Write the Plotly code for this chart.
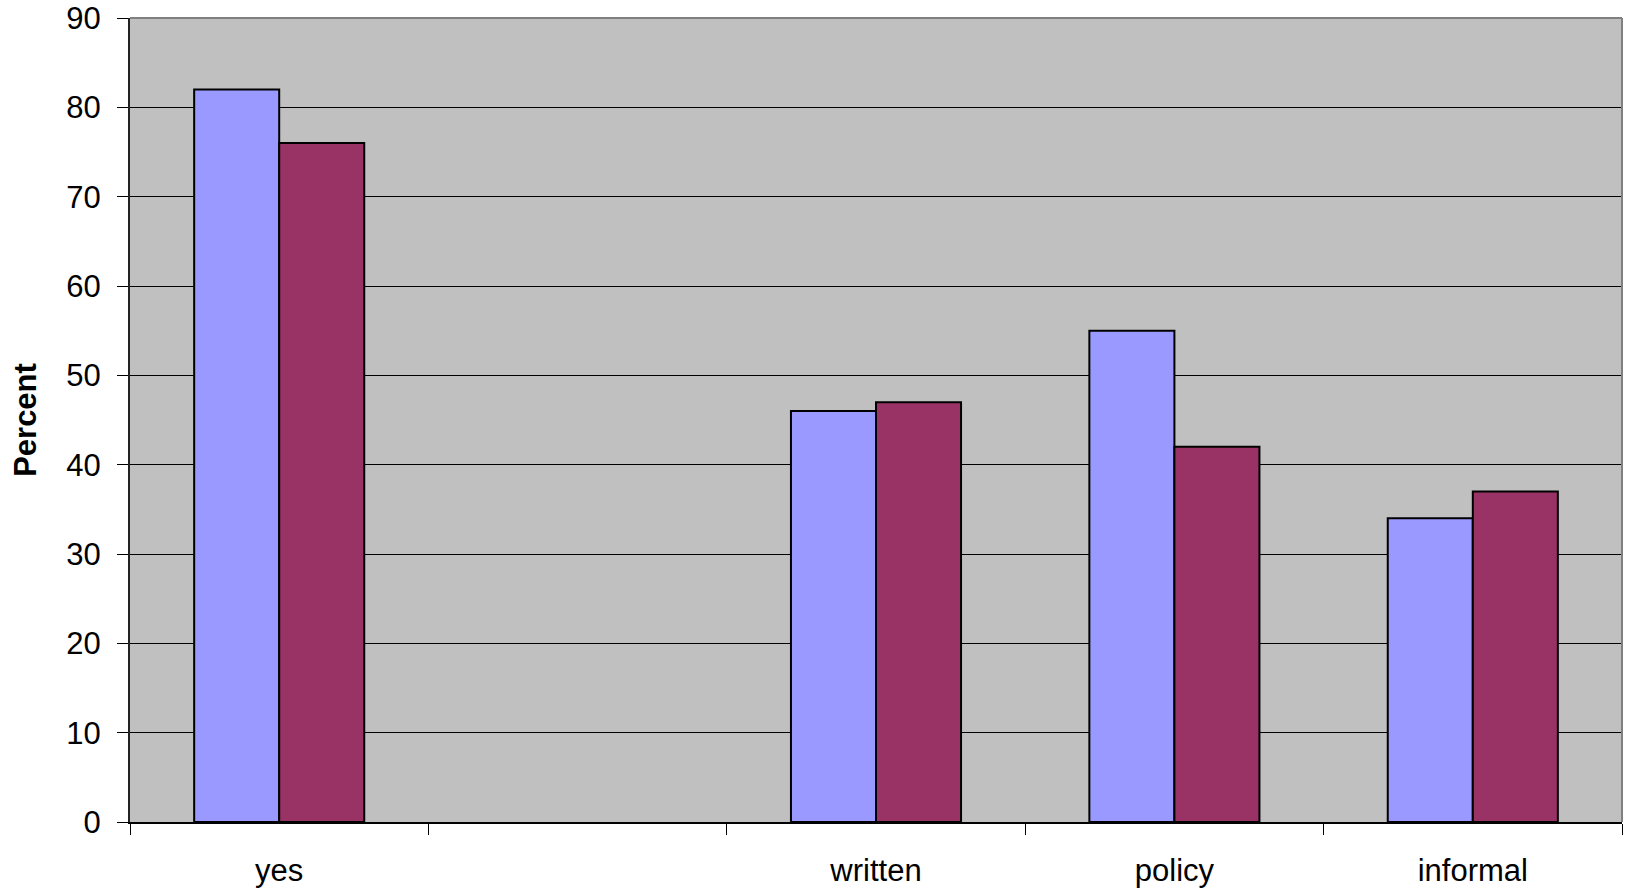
import plotly.graph_objects as go

categories = ["yes", " ", "written", "policy", "informal"]
series_a = [82, None, 46, 55, 34]
series_b = [76, None, 47, 42, 37]
y_ticks = [0, 10, 20, 30, 40, 50, 60, 70, 80, 90]

FONT = "Liberation Sans, Arial, sans-serif"

fig = go.Figure()
fig.add_trace(go.Bar(x=categories, y=series_a, marker=dict(color="#9999FF", line=dict(color="black", width=2)),
                     showlegend=False))
fig.add_trace(go.Bar(x=categories, y=series_b, marker=dict(color="#993366", line=dict(color="black", width=2)),
                     showlegend=False))

fig.update_layout(
    width=1626, height=890,
    margin=dict(l=130, r=4, t=18, b=68),
    paper_bgcolor="white",
    plot_bgcolor="#C0C0C0",
    barmode="group",
    bargap=0.43,
    bargroupgap=0,
    font=dict(family=FONT, size=31, color="black"),
    xaxis=dict(
        type="category",
        categoryorder="array", categoryarray=categories,
        tickson="boundaries",
        automargin=False,
        ticks="outside", ticklen=11, tickcolor="black", tickwidth=1,
        ticklabelstandoff=20,
        ticklabeloverflow="allow",
        showline=True, linecolor="black", linewidth=2,
        showgrid=False,
        tickfont=dict(family=FONT, size=31, color="black"),
    ),
    yaxis=dict(
        range=[0, 90],
        tickvals=y_ticks,
        automargin=False,
        ticks="outside", ticklen=11, tickcolor="black", tickwidth=1,
        ticklabelstandoff=10,
        ticklabeloverflow="allow",
        showline=True, linecolor="#222222", linewidth=2,
        showgrid=True, gridcolor="black", gridwidth=1,
        zeroline=False,
        tickfont=dict(family=FONT, size=31, color="black"),
        title=dict(text="<b>Percent</b>", font=dict(family=FONT, size=31, color="black"), standoff=20),
    ),
    shapes=[
        dict(type="line", xref="paper", yref="paper", x0=0, x1=1, y0=1, y1=1,
             line=dict(color="#808080", width=2)),
        dict(type="line", xref="paper", yref="paper", x0=1, x1=1, y0=0, y1=1,
             line=dict(color="#808080", width=2)),
    ],
)

fig.write_html("out.html")
